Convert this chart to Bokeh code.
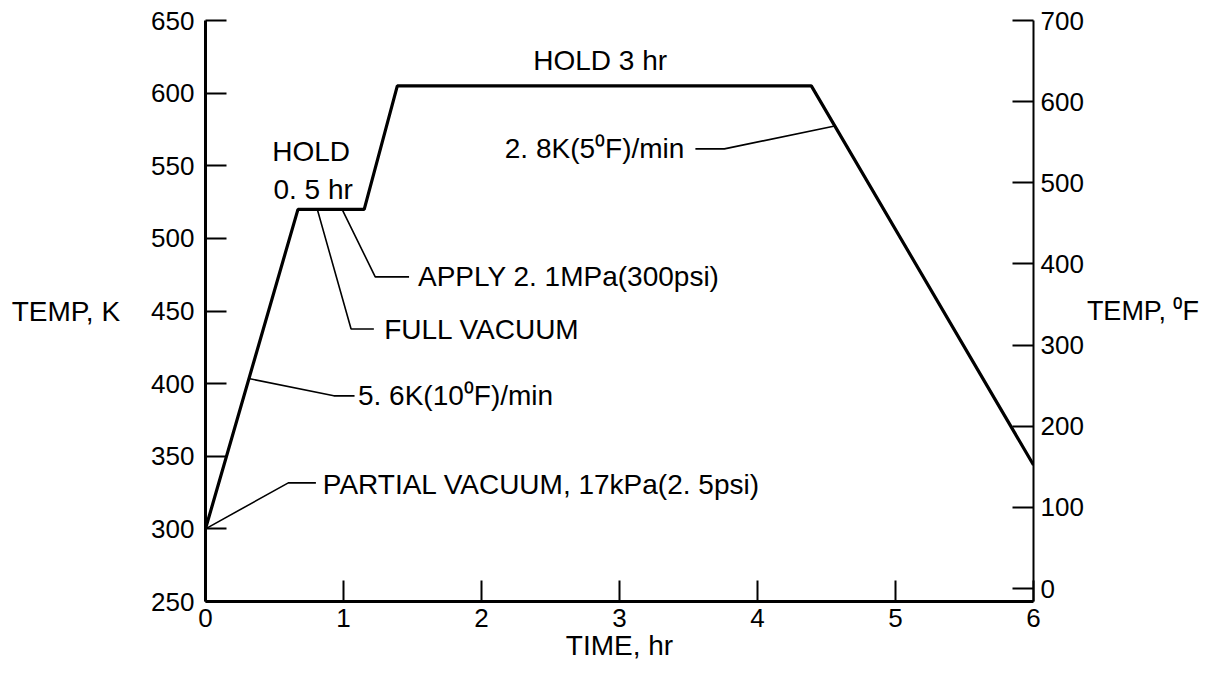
from bokeh.plotting import figure
from bokeh.models import Range1d, LinearAxis, FixedTicker, Label
from bokeh.embed import file_html
from bokeh.resources import INLINE

# ---- data ----
time_hr = [0.0, 0.67, 1.15, 1.39, 4.39, 6.0]
temp_K = [300, 520, 520, 605, 605, 344]

x_ticks = [0, 1, 2, 3, 4, 5, 6]
k_ticks = [250, 300, 350, 400, 450, 500, 550, 600, 650]
f_ticks = [0, 100, 200, 300, 400, 500, 600, 700]

FONT = "Liberation Sans"
TICK_FS = "26px"
FS = "28px"

p = figure(width=1205, height=669, x_range=Range1d(0, 6), y_range=Range1d(250, 650),
           output_backend="svg", toolbar_location=None,
           min_border_left=205, min_border_right=172, min_border_top=20, min_border_bottom=68)
p.outline_line_color = None
p.xgrid.grid_line_color = None
p.ygrid.grid_line_color = None
p.background_fill_color = "white"
p.border_fill_color = "white"

p.extra_y_ranges = {"F": Range1d(-16, 700)}
raxis = LinearAxis(y_range_name="F", ticker=FixedTicker(ticks=f_ticks))
p.add_layout(raxis, "right")

p.xaxis.ticker = FixedTicker(ticks=x_ticks)
p.yaxis[0].ticker = FixedTicker(ticks=k_ticks)

for ax in [p.xaxis[0], p.yaxis[0], raxis]:
    ax.major_tick_in = 21
    ax.major_tick_out = 0
    ax.minor_tick_in = 0
    ax.minor_tick_out = 0
    ax.major_tick_line_width = 2
    ax.major_tick_line_color = "black"
    ax.axis_line_color = "black"
    ax.major_label_text_font = FONT
    ax.major_label_text_font_size = TICK_FS
    ax.major_label_text_color = "black"
    ax.axis_label_text_font = FONT
    ax.axis_label_text_font_size = FS
    ax.axis_label_text_font_style = "normal"
    ax.axis_label_text_color = "black"
p.xaxis[0].axis_line_width = 3
p.yaxis[0].axis_line_width = 3
raxis.axis_line_width = 2
p.xaxis[0].major_label_standoff = 7
p.yaxis[0].major_label_standoff = 11
raxis.major_label_standoff = 7

p.xaxis[0].axis_label = "TIME, hr"
p.xaxis[0].axis_label_standoff = 0
p.yaxis[0].axis_label = "TEMP, K"
p.yaxis[0].axis_label_orientation = "horizontal"
p.yaxis[0].axis_label_standoff = 28
raxis.axis_label = "TEMP, ⁰F"
raxis.axis_label_orientation = "horizontal"
raxis.axis_label_standoff = 0
raxis.axis_label_text_font_size = "27px"

# main curve
p.line(time_hr, temp_K, line_color="black", line_width=3.2)

# leader lines (data coordinates)
leaders = [
    ([0.01, 0.60, 0.80], [300.5, 331.7, 331.7]),      # partial vacuum
    ([0.313, 0.93, 1.08], [403.5, 391.6, 391.6]),     # 5.6K/min
    ([0.81, 1.055, 1.22], [520, 437.6, 437.6]),       # full vacuum
    ([0.99, 1.23, 1.475], [520, 473.5, 473.5]),       # apply pressure
    ([4.56, 3.76, 3.55], [577.4, 561.6, 561.6]),      # 2.8K/min
]
for xs, ys in leaders:
    p.line(xs, ys, line_color="black", line_width=1.6)

def lab(x, y, text, align="left"):
    p.add_layout(Label(x=x, y=y, text=text, text_font=FONT, text_font_size=FS,
                       text_color="black", text_align=align, text_baseline="middle"))

lab(0.85, 330.3, "PARTIAL VACUUM,  17kPa(2. 5psi)")
lab(1.105, 391.6, "5. 6K(10⁰F)/min")
lab(1.295, 437.6, "FULL VACUUM")
lab(1.54, 473.5, "APPLY 2. 1MPa(300psi)")
lab(3.47, 561.6, "2. 8K(5⁰F)/min", align="right")
lab(2.86, 622.2, "HOLD 3 hr", align="center")
lab(0.765, 559.6, "HOLD", align="center")
lab(0.78, 533.4, "0. 5 hr", align="center")

open("out.html", "w").write(file_html(p, INLINE))
